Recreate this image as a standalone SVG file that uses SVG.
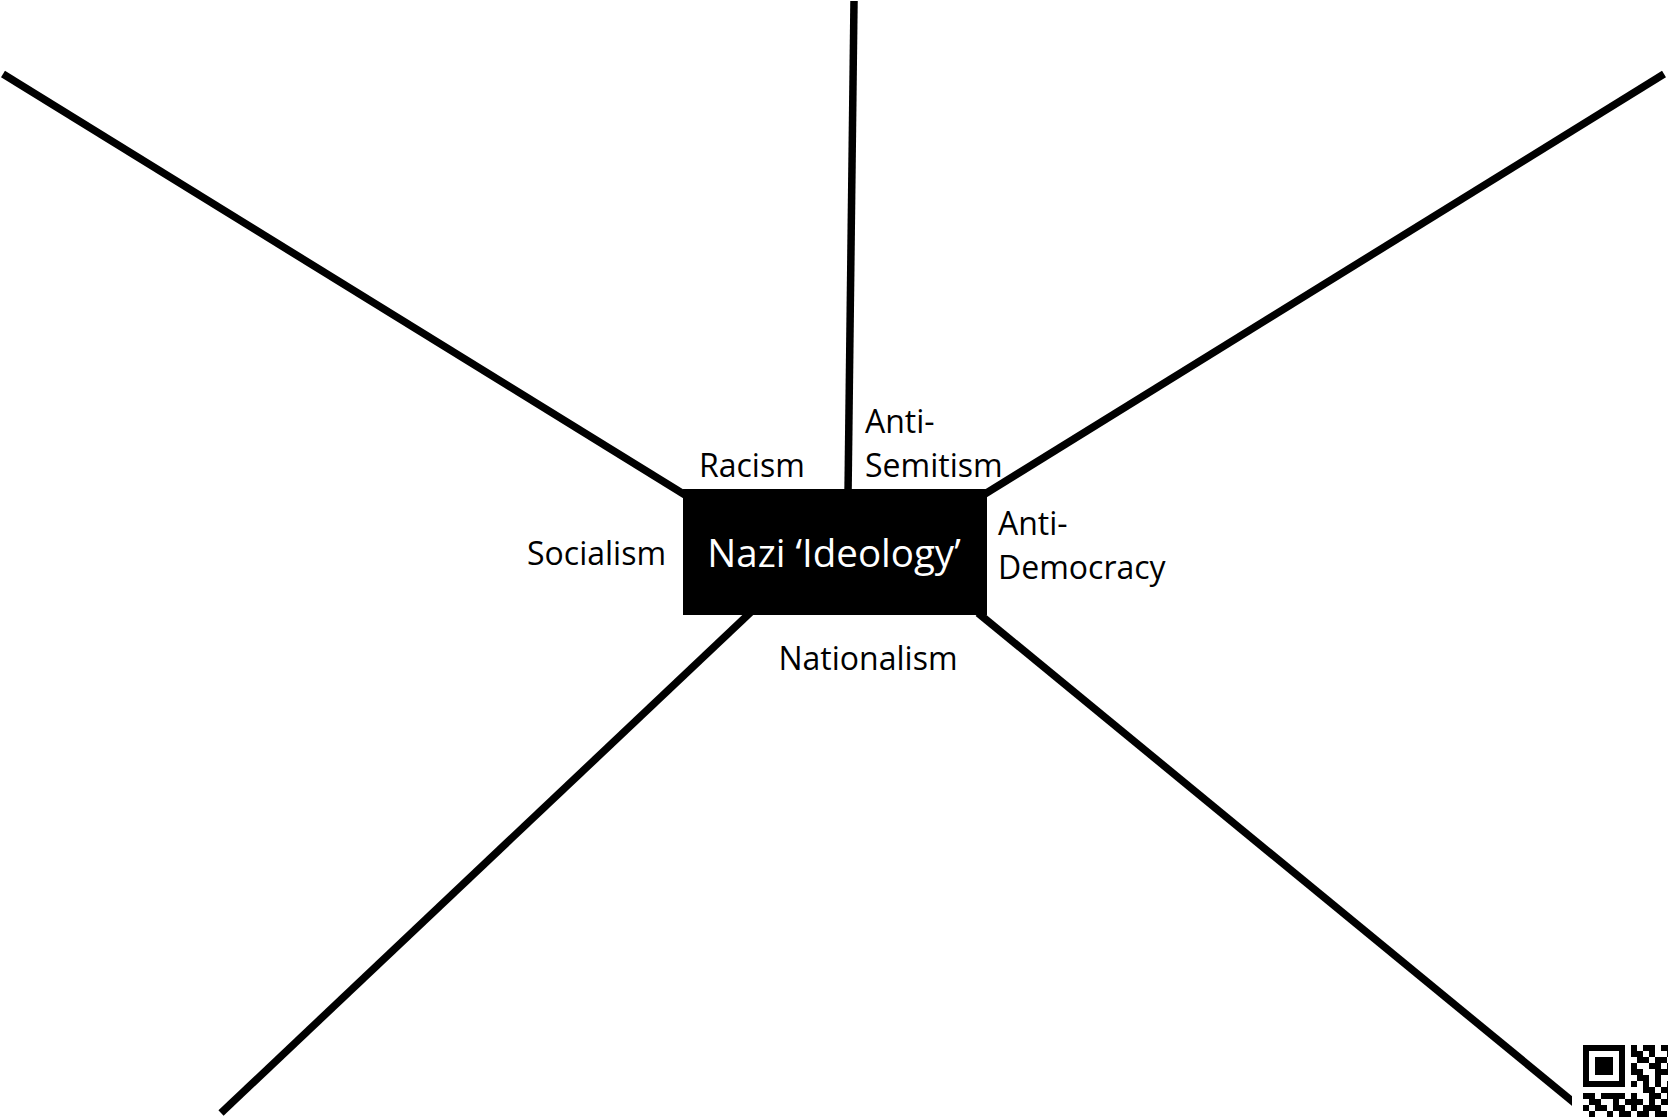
<svg xmlns="http://www.w3.org/2000/svg" width="1668" height="1118" viewBox="0 0 1668 1118">
<style>
.spoke{stroke:#000;stroke-width:7.5;fill:none;stroke-linecap:butt}
.lbl{font-family:"Open Sans","Noto Sans",sans-serif;font-size:32px;fill:#000}
.title{font-family:"Open Sans","Noto Sans",sans-serif;font-size:38.5px;fill:#fff}
</style>
<rect width="1668" height="1118" fill="#fff"/>
<g id="connectors">
<line class="spoke" x1="3" y1="74" x2="690" y2="498"/>
<line class="spoke" x1="854" y1="1" x2="848" y2="495"/>
<line class="spoke" x1="1664" y1="74" x2="980" y2="497"/>
<line class="spoke" x1="221" y1="1113" x2="752" y2="611"/>
<line class="spoke" x1="978" y1="613" x2="1600" y2="1124"/>
</g>
<g id="center">
<rect x="683" y="489" width="304" height="126" fill="#000"/>
<text class="title" x="834" y="567" text-anchor="middle">Nazi ‘Ideology’</text>
</g>
<g id="racism"><text class="lbl" x="699" y="477">Racism</text></g>
<g id="anti-semitism"><text class="lbl" x="865" y="433">Anti-</text><text class="lbl" x="865" y="477">Semitism</text></g>
<g id="anti-democracy"><text class="lbl" x="998" y="535">Anti-</text><text class="lbl" x="998" y="579">Democracy</text></g>
<g id="socialism"><text class="lbl" x="527" y="565">Socialism</text></g>
<g id="nationalism"><text class="lbl" x="868" y="670" text-anchor="middle">Nationalism</text></g>
<g id="qr">
<rect x="1572" y="1037" width="96" height="81" fill="#fff"/>
<rect x="1586" y="1048" width="36" height="36" fill="none" stroke="#000" stroke-width="6"/>
<rect x="1595" y="1057" width="18" height="18" fill="#000"/>
<path fill="#000" d="M1631 1045h6v6h-6zM1643 1045h12v6h-12zM1661 1045h12v6h-12z
M1631 1051h12v6h-12zM1649 1051h6v6h-6zM1667 1051h6v6h-6z
M1637 1057h12v6h-12zM1655 1057h12v6h-12z
M1631 1063h6v6h-6zM1649 1063h12v6h-12zM1667 1063h6v6h-6z
M1631 1069h12v6h-12zM1655 1069h18v6h-18z
M1637 1075h12v6h-12zM1655 1075h6v6h-6z
M1631 1081h6v6h-6zM1643 1081h6v6h-6zM1655 1081h6v6h-6zM1667 1081h6v6h-6z
M1643 1087h12v6h-12zM1661 1087h12v6h-12z
M1583 1093h12v6h-12zM1601 1093h24v6h-24zM1631 1093h6v6h-6zM1649 1093h12v6h-12zM1667 1093h6v6h-6z
M1589 1099h12v6h-12zM1613 1099h6v6h-6zM1625 1099h18v6h-18zM1649 1099h6v6h-6zM1661 1099h12v6h-12z
M1583 1105h6v6h-6zM1595 1105h12v6h-12zM1613 1105h12v6h-12zM1631 1105h6v6h-6zM1643 1105h18v6h-18z
M1589 1111h6v6h-6zM1607 1111h6v6h-6zM1619 1111h12v6h-12zM1637 1111h12v6h-12zM1655 1111h12v6h-12z"/>
</g>
</svg>
